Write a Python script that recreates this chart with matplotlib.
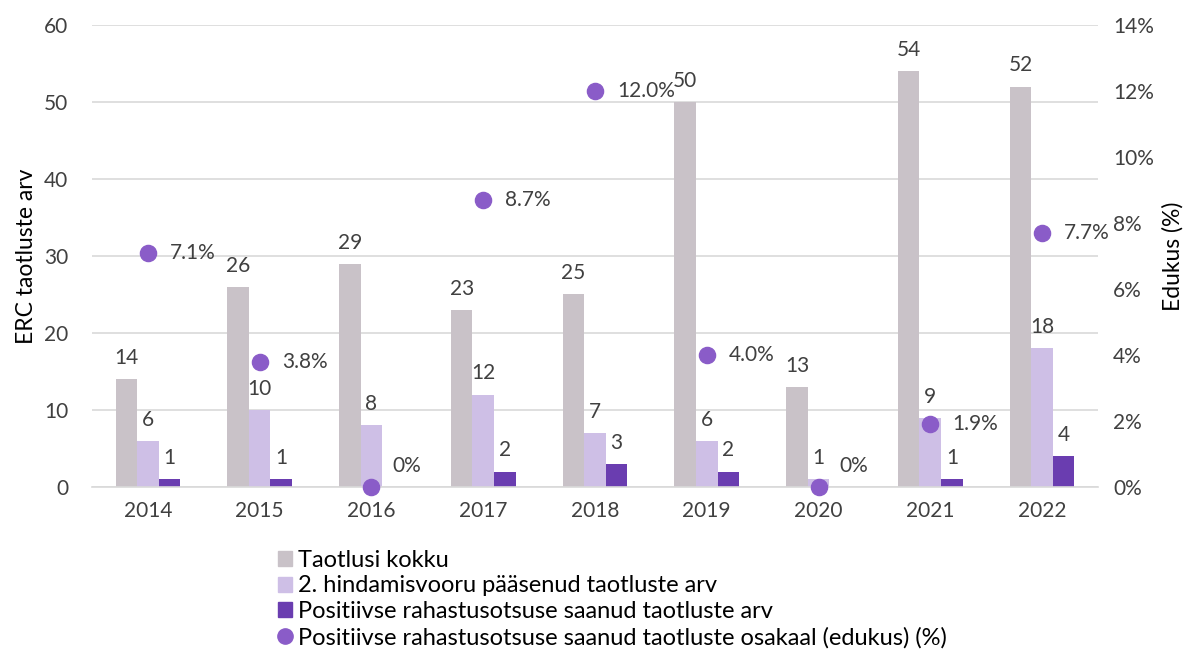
import matplotlib
matplotlib.use("Agg")
import matplotlib.pyplot as plt
import numpy as np
from matplotlib.ticker import FuncFormatter

years = ["2014", "2015", "2016", "2017", "2018", "2019", "2020", "2021", "2022"]
total = [14, 26, 29, 23, 25, 50, 13, 54, 52]
second_round = [6, 10, 8, 12, 7, 6, 1, 9, 18]
funded = [1, 1, 0, 2, 3, 2, 0, 1, 4]
success_pct = [7.1, 3.8, 0, 8.7, 12.0, 4.0, 0, 1.9, 7.7]

labels = ["Taotlusi kokku",
          "2. hindamisvooru pääsenud taotluste arv",
          "Positiivse rahastusotsuse saanud taotluste arv",
          "Positiivse rahastusotsuse saanud taotluste osakaal (edukus) (%)"]

plt.rcParams['font.family'] = ['Lato', 'DejaVu Sans']
txt = '#404040'
c_grey = '#C9C2C8'
c_lav = '#CEBFE6'
c_purp = '#6A3DB0'
c_dot = '#8A5CC8'
fs = 15
fs_title = 16.5

fig = plt.figure(figsize=(11.89, 6.54), dpi=100)
ax = fig.add_axes([0.0774, 0.2554, 0.846, 0.7064])
ax2 = ax.twinx()

x = np.arange(len(years))
w = 0.193
b1 = ax.bar(x - w, total, w, color=c_grey, zorder=2)
b2 = ax.bar(x, second_round, w, color=c_lav, zorder=2)
b3 = ax.bar(x + w, funded, w, color=c_purp, zorder=2)

for bars, vals in ((b1, total), (b2, second_round), (b3, funded)):
    for r, v in zip(bars, vals):
        if v == 0:
            continue
        ax.annotate(str(v), (r.get_x() + r.get_width() / 2, v), xytext=(0, 8),
                    textcoords='offset points', ha='center', va='bottom',
                    fontsize=fs, color=txt)

ax.set_xlim(-0.5, len(years) - 0.5)
ax.set_ylim(0, 60)
ax.set_yticks(range(0, 61, 10))
ax.yaxis.grid(True, color='#D9D9D9', linewidth=1.2, zorder=0)
ax.set_axisbelow(True)
ax.set_xticks(x)
ax.set_xticklabels(years)
ax.tick_params(axis='both', length=0, labelsize=fs, labelcolor=txt)
ax.tick_params(axis='x', pad=10)
ax.tick_params(axis='y', pad=17)
for s in ('top', 'left', 'right'):
    ax.spines[s].set_visible(False)
ax.spines['bottom'].set_color('#D9D9D9')
ax.spines['bottom'].set_linewidth(1.2)
ax.set_ylabel("ERC taotluste arv", fontsize=fs_title, color='black', labelpad=5)

sc = ax2.scatter(x, success_pct, s=135, color=c_dot, zorder=5, clip_on=False)
ax2.set_ylim(0, 14)
ax2.set_yticks(range(0, 15, 2))
ax2.yaxis.set_major_formatter(FuncFormatter(lambda v, p: f"{int(v)}%"))
ax2.tick_params(axis='y', length=0, labelsize=fs, labelcolor=txt, pad=11)
for s in ('top', 'left', 'right', 'bottom'):
    ax2.spines[s].set_visible(False)
ax2.set_ylabel("Edukus (%)", fontsize=fs_title, color='black', labelpad=6)

for xi, v in zip(x, success_pct):
    if v == 0:
        s = "0%"
        off = (15, 15)
    else:
        s = f"{v:.1f}%"
        off = (16, 0)
    ax2.annotate(s, (xi, v), xytext=off, textcoords='offset points',
                 ha='left', va='center', fontsize=fs, color=txt)

handles = [plt.Rectangle((0, 0), 1, 1, color=c_grey),
           plt.Rectangle((0, 0), 1, 1, color=c_lav),
           plt.Rectangle((0, 0), 1, 1, color=c_purp),
           plt.Line2D([], [], marker='o', linestyle='', color=c_dot, markersize=11)]
fig.legend(handles, labels, loc='upper left', bbox_to_anchor=(0.226, 0.174),
           frameon=False, fontsize=17, labelcolor='black', handlelength=0.6,
           handleheight=0.6, handletextpad=0.25, labelspacing=0.2,
           borderaxespad=0)

fig.savefig("out.png", dpi=100)
